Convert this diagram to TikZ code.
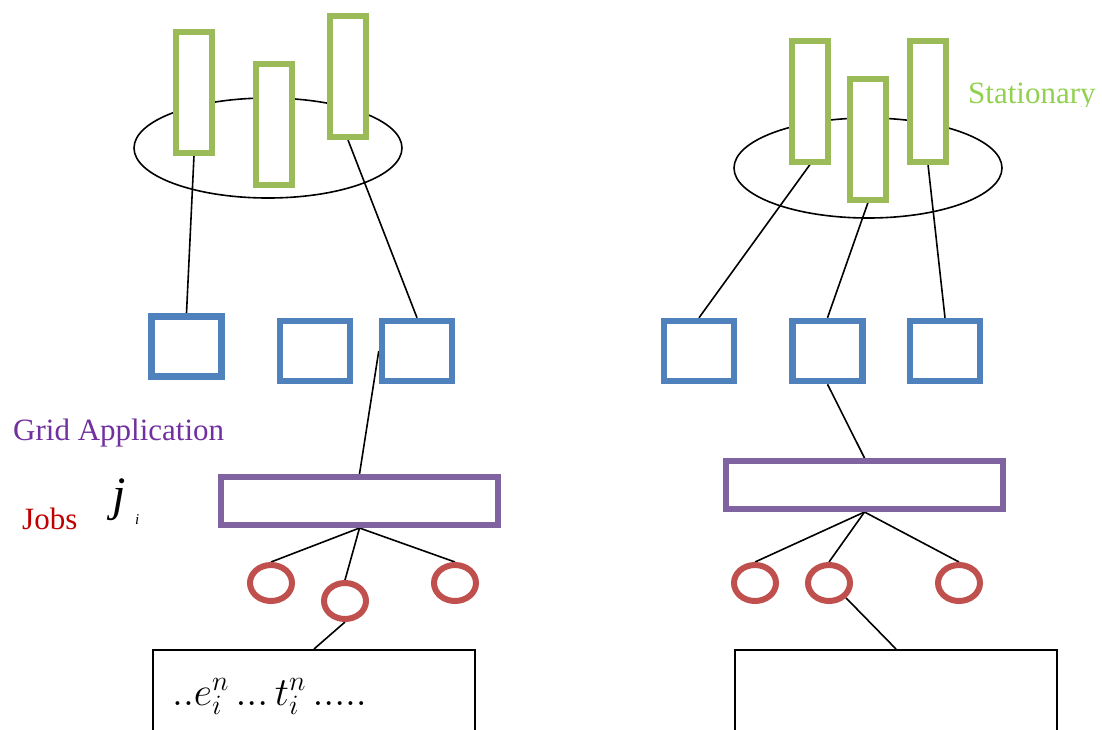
\documentclass[tikz,border=0pt]{standalone}
\usepackage{fix-cm}
\usepackage{fontspec}
\setmainfont{Liberation Serif}
\usetikzlibrary{shapes.geometric}
\pgfdeclarelayer{bg}
\pgfsetlayers{bg,main}
\definecolor{gr}{HTML}{9BBB59}
\definecolor{bl}{HTML}{4F81BD}
\definecolor{pu}{HTML}{8064A2}
\definecolor{rd}{HTML}{C0504D}
\definecolor{txtpu}{HTML}{7030A0}
\definecolor{txtrd}{HTML}{C00000}
\definecolor{txtgr}{HTML}{92D050}
\begin{document}
\begin{tikzpicture}[x=1pt,y=-1pt,
  bar/.style={rectangle, draw=gr, line width=6pt, fill=white, inner sep=0pt, minimum width=36pt, minimum height=121pt},
  host/.style={rectangle, draw=bl, line width=6.5pt, fill=white, inner sep=0pt, minimum width=70pt, minimum height=60pt},
  app/.style={rectangle, draw=pu, line width=6pt, fill=white, inner sep=0pt, minimum width=277pt, minimum height=48pt},
  job/.style={ellipse, draw=rd, line width=6pt, fill=white, inner sep=0pt, minimum width=42pt, minimum height=36pt},
  pool/.style={ellipse, draw, line width=1.6pt, inner sep=0pt, minimum width=268pt, minimum height=100pt},
  res/.style={rectangle, draw, line width=2pt, inner sep=0pt, minimum width=322pt, minimum height=120pt, anchor=north},
  link/.style={draw, line width=1.6pt},
  lbl/.style={inner sep=0pt, anchor=base west, font=\fontsize{31}{37}\selectfont}]
\useasboundingbox (0,0) rectangle (1102,729);

% ---------- left side ----------
\node[pool] (poolL) at (268,148) {};
\node[bar] (barL1) at (194,92) {};
\node[bar] (barL2) at (274,124.5) {};
\node[bar] (barL3) at (348,76.5) {};
\node[host] (hostL1) at (186.5,346.5) {};
\node[host] (hostL2) at (315,351) {};
\node[host] (hostL3) at (417,351) {};
\node[app] (appL) at (359.5,501) {};
\node[job] (jobL1) at (271,583) {};
\node[job] (jobL2) at (345,601) {};
\node[job] (jobL3) at (455,583) {};
\node[res] (resL) at (314,649) {};
\node[inner sep=0pt, anchor=base west, font=\fontsize{40}{46}\selectfont] (seq) at (172,705) {$..e_i^n\,...\,t_i^n\,.....$};

% ---------- right side ----------
\node[pool] (poolR) at (868,168) {};
\node[bar] (barR1) at (810,101) {};
\node[bar] (barR2) at (868,139) {};
\node[bar] (barR3) at (928,101) {};
\node[host] (hostR1) at (699,351) {};
\node[host] (hostR2) at (827.5,351) {};
\node[host] (hostR3) at (945,351) {};
\node[app] (appR) at (864.5,485) {};
\node[job] (jobR1) at (755,583) {};
\node[job] (jobR2) at (829,583) {};
\node[job] (jobR3) at (959,583) {};
\node[res] (resR) at (896,649) {};

% ---------- labels ----------
\node[lbl, text=txtpu] (grid) at (13,440) {Grid Application};
\node[lbl, text=txtrd] (jobs) at (22,529) {Jobs};
\node[inner sep=0pt, anchor=base west, font=\fontsize{48}{54}\selectfont\itshape] (jsym) at (112,510) {j};
\node[inner sep=0pt, anchor=base west, font=\fontsize{15}{17}\selectfont\itshape] (isub) at (135,524) {i};
\begin{scope}
  \clip (950,50) rectangle (1102,106);
  \node[lbl, text=txtgr] (stat) at (968,103) {Stationary};
\end{scope}

% ---------- connectors ----------
\begin{pgfonlayer}{bg}
  \path[link] (barL1.south) -- (hostL1.north);
  \path[link] (barL3.south) -- (hostL3.north);
  \path[link] (hostL3.west) -- (appL.north);
  \path[link] (appL.south) -- (jobL1.north);
  \path[link] (appL.south) -- (jobL2.north);
  \path[link] (appL.south) -- (jobL3.north);
  \path[link] (jobL2.south) -- (resL.north);
  \path[link] (barR1.south) -- (hostR1.north);
  \path[link] (barR2.south) -- (hostR2.north);
  \path[link] (barR3.south) -- (hostR3.north);
  \path[link] (hostR2.south) -- (appR.north);
  \path[link] (appR.south) -- (jobR1.north);
  \path[link] (appR.south) -- (jobR2.north);
  \path[link] (appR.south) -- (jobR3.north);
  \path[link] (jobR2.south east) -- (resR.north);
\end{pgfonlayer}
\end{tikzpicture}
\end{document}
